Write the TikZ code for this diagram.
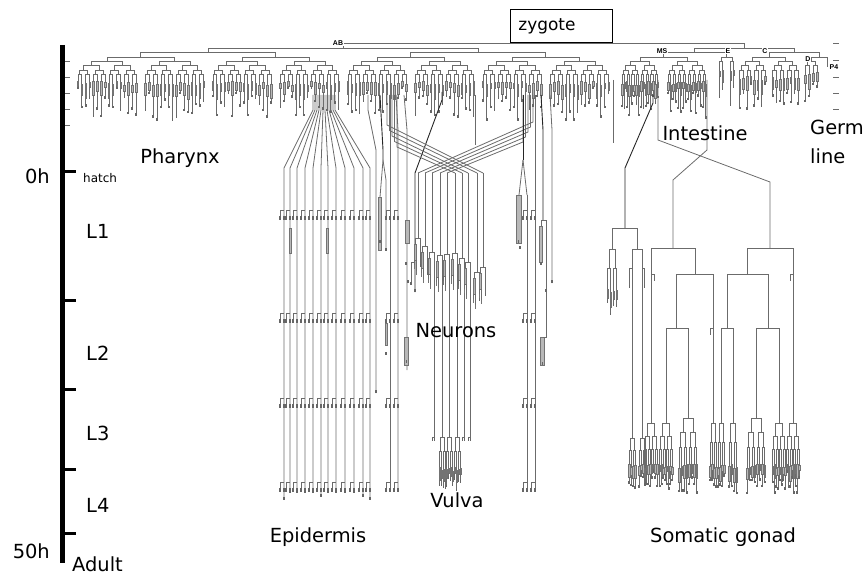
\documentclass[tikz,border=0pt]{standalone}
\usepackage{fontspec}
\setmainfont{DejaVu Sans}
\newfontfamily\smallbold{Liberation Sans}
\newcommand\lintree[6]{%
  \pgfmathtruncatemacro\ltLm{#5-1}%
  \foreach \l in {0,...,\ltLm}{%
    \pgfmathtruncatemacro\ltN{2^\l-1}%
    \pgfmathsetmacro\ltS{(#2)/(2^(\l+1))}%
    \pgfmathsetmacro\ltY{#3+\l*(#4)}%
    \pgfmathsetmacro\ltYn{#3+(\l+1)*(#4)}%
    \foreach \i in {0,...,\ltN}{%
      \pgfmathsetmacro\ltA{#1+(2*\i+0.5)*\ltS}%
      \pgfmathsetmacro\ltB{#1+(2*\i+1.5)*\ltS}%
      \draw[#6] (\ltA,\ltYn) -- (\ltA,\ltY) -- (\ltB,\ltY) -- (\ltB,\ltYn);
    }%
  }%
}
\newcommand\linleaves[6]{%
  \pgfmathtruncatemacro\lvN{#4-1}%
  \foreach \j in {0,...,\lvN}{%
    \pgfmathsetmacro\lvX{#1+(\j+0.5)*(#2)/(#4)}%
    \pgfmathtruncatemacro\lvR{mod(\j*37+(#5)*17+\j*\j*5,29)}%
    \pgfmathsetmacro\lvA{#3+2+mod(\lvR,5)}%
    \pgfmathsetmacro\lvB{\lvA+5+mod(\lvR*3,11)}%
    \pgfmathsetmacro\lvC{\lvB+1+\lvR*(#6)/29}%
    \draw[gl] (\lvX,#3) -- (\lvX,\lvA);
    \draw[gbox] (\lvX-0.75,\lvA) rectangle (\lvX+0.75,\lvB);
    \draw[gl] (\lvX,\lvB) -- (\lvX,\lvC);
    \fill[black!60] (\lvX-0.9,\lvC) rectangle (\lvX+0.9,\lvC+2.5);
  }%
}
\newcommand\sfork[2]{%
  \draw[gl] (#1,#2) -- (#1-4,#2) -- (#1-4,#2+10);
  \fill[black!60] (#1-4.8,#2+6) rectangle (#1-3.2,#2+10);
  \fill[black!60] (#1-0.8,#2+6) rectangle (#1+0.8,#2+10);
}
\newcommand\dkm[2]{\fill[black!60] (#1-0.9,#2) rectangle (#1+0.9,#2+3);}
\begin{document}
\begin{tikzpicture}[x=1bp,y=-1bp,
  gl/.style={draw=black!58, line width=0.8bp},
  bl/.style={draw=black!85, line width=0.9bp},
  gbox/.style={draw=black!55, fill=black!28, line width=0.5bp},
  lab/.style={font=\fontsize{19.5}{22}\selectfont, inner sep=0pt},
  tl/.style={font=\smallbold\bfseries\fontsize{7}{8}\selectfont, fill=white, inner sep=0.5bp}]
\useasboundingbox (0,0) rectangle (865,576);

% ---------- time axis ----------
\draw[line width=5bp] (62,45) -- (62,563);
\foreach \ty in {172,300,389,469,533} \draw[line width=3bp] (62,\ty) -- (76,\ty);
\foreach \ty in {61,77,93,109,125} \draw[gl] (65,\ty) -- (70,\ty);
\foreach \ty in {43,60,77,93,109} \draw[gl] (833,\ty) -- (839,\ty);
\node[lab, anchor=east] (t0) at (50,176) {0h};
\node[lab, anchor=east] (t50) at (50,551) {50h};
\node[font=\fontsize{12}{14}\selectfont, anchor=west, inner sep=0pt] (hatch) at (83,178) {hatch};
\node[lab, anchor=west] (sL1) at (86,231) {L1};
\node[lab, anchor=west] (sL2) at (86,353) {L2};
\node[lab, anchor=west] (sL3) at (86,433) {L3};
\node[lab, anchor=west] (sL4) at (86,505) {L4};
\node[lab, anchor=west] (sAd) at (72,564) {Adult};

% ---------- zygote ----------
\node[draw, line width=0.8bp, anchor=north west, text width=86bp, inner xsep=8bp, inner ysep=0pt,
      minimum height=33bp, align=left, font=\fontsize{17}{20}\selectfont] (zyg) at (510,9) {zygote};

% ---------- embryonic lineage ----------
\draw[gl] (343.25,48) -- (343.25,43) -- (744,43) -- (744,48);
\draw[gl] (208.25,52) -- (208.25,48) -- (478.25,48) -- (478.25,52);
\draw[gl] (140.75,57) -- (140.75,52) -- (275.75,52) -- (275.75,57);
\draw[gl] (410.75,57) -- (410.75,52) -- (545.75,52) -- (545.75,57);
\foreach \k in {0,1,2,3}{
  \pgfmathsetmacro\ga{107+135*\k}
  \pgfmathsetmacro\gb{174.5+135*\k}
  \draw[gl] (\ga,61) -- (\ga,57) -- (\gb,57) -- (\gb,61);
}
\foreach \g in {0,...,7}{
  \pgfmathsetmacro\gx{76+67.5*\g}
  \lintree{\gx}{62}{61}{4.5}{4}{gl}
  \linleaves{\gx}{62}{79}{16}{\g}{22}
}
% P1 side
\draw[gl] (694.5,52) -- (694.5,48) -- (794,48) -- (794,52);
\draw[gl] (663.5,57) -- (663.5,52) -- (726.5,52) -- (726.5,57);
\draw[gl] (769,57) -- (769,52) -- (819,52) -- (819,57);
\draw[gl] (640,61) -- (640,57) -- (687,57) -- (687,61);
\lintree{621}{38}{61}{4.5}{4}{gl}\linleaves{621}{38}{79}{16}{11}{20}
\lintree{667}{40}{61}{4.5}{4}{gl}\linleaves{667}{40}{79}{16}{12}{20}
\draw[gl] (721,61) -- (721,57) -- (732,57) -- (732,61);
\lintree{718}{6}{61}{6}{1}{gl}\lintree{729}{6}{61}{6}{1}{gl}
\linleaves{718}{6}{67}{2}{3}{24}\linleaves{729}{6}{67}{2}{5}{24}
\draw[gl] (752.5,61) -- (752.5,57) -- (785.5,57) -- (785.5,61);
\lintree{738}{29}{61}{4.5}{3}{gl}\linleaves{738}{29}{74.5}{8}{13}{18}
\lintree{771}{29}{61}{4.5}{3}{gl}\linleaves{771}{29}{74.5}{8}{14}{18}
\draw[gl] (811,61) -- (811,57) -- (827,57) -- (827,67);
\lintree{803}{16}{61}{4.5}{2}{gl}\linleaves{803}{16}{70}{4}{15}{20}
\node[tl] (lAB) at (338,43) {AB};
\node[tl] (lMS) at (662,51) {MS};
\node[tl] (lE) at (728,51) {E};
\node[tl] (lC) at (765,51) {C};
\node[tl] (lD) at (808,59) {D};
\node[tl, fill=none, anchor=west] (lP4) at (829,67) {P4};
\draw[gl] (613,80) -- (613,143);

% ---------- epidermis fan ----------
\foreach \xs/\xe/\yb in {313/284/497, 315/290/490, 317/297/490, 319/305/490, 321/313/490, 323/321/494, 325/328/490, 327/336/490, 329/345/490, 331/354/490, 333/363/494, 335/370/497}{
  \draw[gl] (\xs,95) -- (\xs,110) -- (\xe,168) -- (\xe,\yb);
  \sfork{\xe}{210}\sfork{\xe}{313}\sfork{\xe}{398}\sfork{\xe}{482}
  \dkm{\xe}{\yb}
}
\draw[gbox] (289,228) rectangle (291,253);
\draw[gbox] (326,228) rectangle (328,253);

% ---------- left cluster ----------
\draw[gl] (368,95) -- (368,110) -- (376,150) -- (376,393); \dkm{376}{390}
\draw[bl] (380,95) -- (383,150) -- (383,160);
\draw[gl] (383,160) -- (380,197); \draw[gl] (383,160) -- (386,180) -- (386,250);
\draw[gbox] (378.5,197) rectangle (381.5,250); \dkm{380}{240}\dkm{386}{248}
\draw[gl] (390,95) -- (390,490); \sfork{390}{210}\sfork{390}{313}\sfork{390}{398}\sfork{390}{482}
\draw[gbox] (385,323) rectangle (387.5,345); \dkm{386}{352}
\draw[gl] (396,95) -- (398,130) -- (398,490); \sfork{398}{210}\sfork{398}{313}\sfork{398}{398}\sfork{398}{482}
\draw[gl] (404,95) -- (407,130) -- (407,370);
\draw[gbox] (405,220) rectangle (409,243); \dkm{406}{262}\dkm{408}{280}
\draw[gbox] (404.5,337) rectangle (408.5,365); \dkm{406.5}{360}
\draw[bl] (442,92) -- (442,100) -- (415,173) -- (415,292);
\draw[gl] (415,262) -- (411,262) -- (411,285); \dkm{411}{282}\dkm{415}{289}

% ---------- neuron crossing ----------
\draw[gl] (475,95) -- (475,145);
\foreach \sx/\sy/\ex in {387/125/483, 389.5/130.5/477, 392/136/468, 394.5/141.5/462, 397/147/455}{
  \draw[gl] (\sx,95) -- (\sx,\sy) -- (\ex,173);
}
\foreach \sx/\sy/\ex in {533/122/418, 530.5/127/425, 528/132/432, 525.5/137/440, 523/142/447}{
  \draw[gl] (\sx,95) -- (\sx,\sy) -- (\ex,173);
}
\foreach \x/\y/\v [count=\n] in {418/238/0, 425/246/0, 432/252/1, 440/255/2, 447/254/2, 455/253/2, 462/258/1, 468/262/1, 477/272/0, 483/267/0}{
  \draw[gl] (\x,173) -- (\x,\y);
  \draw[gl] (\x-2.5,\y+6) -- (\x-2.5,\y) -- (\x+2.5,\y) -- (\x+2.5,\y+6);
  \draw[gbox] (\x-3.6,\y+6) rectangle (\x-1.4,\y+22);
  \draw[gl] (\x-3.6,\y+22) -- (\x-3.6,\y+30);
  \draw[gl] (\x-1.4,\y+22) -- (\x-1.4,\y+36);
  \fill[black!55] (\x-4.4,\y+27) rectangle (\x-2.8,\y+31);
  \fill[black!55] (\x-2.2,\y+33) rectangle (\x-0.6,\y+37);
  \ifcase\v\relax
    \draw[gl] (\x+2.5,\y+6) -- (\x+2.5,\y+28); \dkm{\x+2.5}{\y+26}
  \or
    \draw[gl] (\x+2.5,\y+6) -- (\x+2.5,441);
    \draw[gl] (\x+2.5,437) -- (\x+0.5,437) -- (\x+0.5,441);
    \dkm{\x+0.5}{438}\dkm{\x+2.5}{438}
  \or
    \draw[gl] (\x+2.5,\y+6) -- (\x+2.5,437);
    \lintree{\x-1.5}{8}{437}{14}{2}{gl}
    \linleaves{\x-1.5}{8}{465}{4}{\n}{6}
  \fi
}

% ---------- right cluster ----------
\draw[bl] (523,95) -- (523,160);
\draw[gl] (523,160) -- (519,195); \draw[gl] (523,160) -- (527,195);
\draw[gbox] (516,195) rectangle (521,243); \dkm{518.5}{240}\dkm{520}{246}
\draw[gl] (527,195) -- (527,490); \sfork{527}{210}\sfork{527}{313}\sfork{527}{398}\sfork{527}{482}
\draw[gl] (535,95) -- (535,490); \sfork{535}{210}\sfork{535}{313}\sfork{535}{398}\sfork{535}{482}
\draw[bl] (541,95) -- (543,130) -- (543,220);
\draw[gl] (541,226) -- (541,220) -- (546,220) -- (546,292);
\draw[gbox] (539.5,226) rectangle (542.5,262); \dkm{541}{262}\dkm{546}{289}
\draw[gbox] (540.5,337) rectangle (544.5,365); \draw[gl] (546,292) -- (546,337) -- (542.5,337); \dkm{542.5}{362}
\draw[gl] (550,95) -- (552,130) -- (552,283); \dkm{552}{280}

% ---------- M lineage ----------
\draw[bl] (653,95) -- (653,103) -- (625,168) -- (625,228);
\draw[gl] (612,249) -- (612,228) -- (637,228) -- (637,249);
\lintree{606}{12}{249}{19}{2}{gl}\linleaves{606}{12}{287}{4}{31}{8}
\draw[gl] (632,268) -- (632,249) -- (642,249) -- (642,268);
\draw[gl] (632,268) -- (629.5,268) -- (629.5,285); \dkm{629.5}{285}
\draw[gl] (642,268) -- (644.5,268) -- (644.5,285); \dkm{644.5}{285}
\draw[gl] (632,268) -- (632,438); \draw[gl] (642,268) -- (642,438);
\lintree{628}{8}{438}{12}{2}{gl}\linleaves{628}{8}{462}{4}{33}{10}
\lintree{638}{8}{438}{12}{2}{gl}\linleaves{638}{8}{462}{4}{34}{10}

% ---------- intestine / gonad precursors ----------
\draw[gl] (658,80) -- (658,140) -- (770,182) -- (770,248);
\draw[gl] (707,80) -- (707,150) -- (673,180) -- (673,248);
\draw[gl] (651,274) -- (651,248) -- (695,248) -- (695,274);
\draw[gl] (747,274) -- (747,248) -- (793,248) -- (793,274);
\draw[gl] (676,328) -- (676,274) -- (713,274) -- (713,328);
\draw[gl] (727,328) -- (727,274) -- (768,274) -- (768,328);
\draw[gl] (651,274) -- (651,423); \draw[gl] (651,274) -- (654,274) -- (654,281);
\draw[gl] (793,274) -- (793,423); \draw[gl] (793,274) -- (790,274) -- (790,281);
\draw[gl] (666,423) -- (666,328) -- (688,328) -- (688,418);
\draw[gl] (756,418) -- (756,328) -- (779,328) -- (779,423);
\draw[gl] (713,328) -- (713,423); \draw[gl] (713,328) -- (710,328) -- (710,335);
\draw[gl] (721,423) -- (721,328) -- (733,328) -- (733,423);
\foreach \x/\y/\w/\L [count=\n] in {651/423/14/3, 666/423/14/3, 688/418/20/3, 713/423/8/2, 721/423/8/2, 733/423/10/2, 756/418/20/3, 779/423/14/3, 793/423/14/3}{
  \pgfmathsetmacro\xl{\x-\w/2}
  \pgfmathsetmacro\dyy{(462-\y)/\L}
  \pgfmathtruncatemacro\nl{2^\L}
  \lintree{\xl}{\w}{\y}{\dyy}{\L}{gl}
  \linleaves{\xl}{\w}{462}{\nl}{\n+20}{14}
}

% ---------- labels ----------
\node[lab] (pharynx) at (180,158) {Pharynx};
\node[lab] (intestine) at (705,133) {Intestine};
\node[lab, anchor=west] (germ) at (810,127) {Germ};
\node[lab, anchor=west] (gline) at (810,156) {line};
\node[lab] (neurons) at (456,331) {Neurons};
\node[lab] (vulva) at (457,500) {Vulva};
\node[lab] (epidermis) at (318,537) {Epidermis};
\node[lab] (gonad) at (723,537) {Somatic gonad};
\end{tikzpicture}
\end{document}
